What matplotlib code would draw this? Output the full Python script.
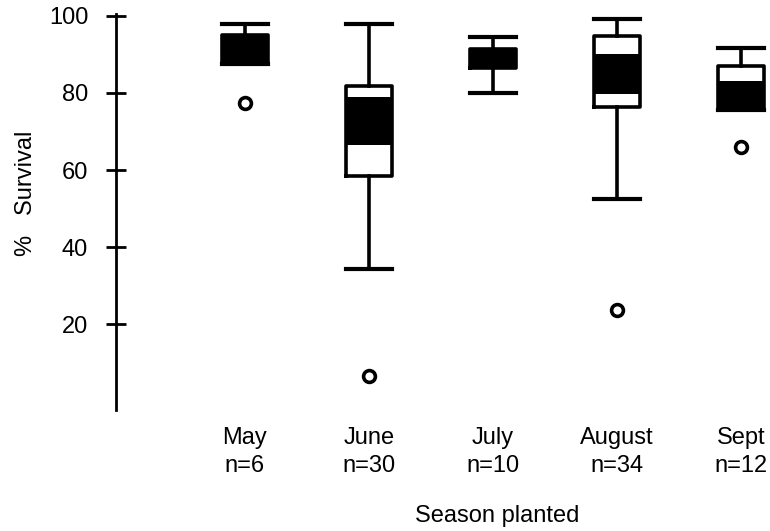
import matplotlib
matplotlib.use('Agg')
import matplotlib.pyplot as plt

plt.rcParams['font.family'] = ['Liberation Sans', 'DejaVu Sans']

months = ['May', 'June', 'July', 'August', 'Sept']
n_obs = [6, 30, 10, 34, 12]
q1 = [87.4, 58.5, 86.5, 76.4, 75.6]
q3 = [95.1, 81.7, 91.4, 94.8, 87.0]
whis_lo = [87.4, 34.2, 80.0, 52.5, 75.6]
whis_hi = [98.0, 97.9, 94.5, 99.2, 91.7]
# dark band inside each box
band_lo = [87.4, 66.6, 86.5, 79.7, 75.6]
band_hi = [95.1, 79.0, 91.4, 90.1, 83.1]
outliers = [[77.3], [6.5], [], [23.6], [66.0]]

pos = list(range(1, len(months) + 1))
W = 0.37
FS = 17

stats = []
for i in range(len(months)):
    stats.append(dict(med=(q1[i] + q3[i]) / 2, q1=q1[i], q3=q3[i],
                      whislo=whis_lo[i], whishi=whis_hi[i], fliers=outliers[i]))

fig = plt.figure(figsize=(7.7, 5.31), dpi=100)
ax = fig.add_axes([116 / 770, 121 / 531, 654 / 770, 396 / 531])

ax.bar(pos, [h - l for h, l in zip(band_hi, band_lo)], bottom=band_lo,
       width=W, color='black', zorder=1)

ax.bxp(stats, positions=pos, widths=W, showfliers=True, patch_artist=False,
       boxprops=dict(color='black', linewidth=2.6),
       whiskerprops=dict(color='black', linewidth=2.6),
       capprops=dict(color='black', linewidth=3),
       medianprops=dict(linewidth=0),
       flierprops=dict(marker='o', markerfacecolor='none', markeredgecolor='black',
                       markersize=8.5, markeredgewidth=2.6),
       capwidths=W, zorder=2)

ax.set_xlim(-0.04, 5.234)
ax.set_ylim(-2.3, 100.5)
ax.set_yticks([20, 40, 60, 80, 100])
ax.set_xticks(pos)
ax.set_xticklabels([m + '\nn=' + str(n) for m, n in zip(months, n_obs)],
                   fontsize=FS, linespacing=1.38)
ax.tick_params(axis='x', length=0, pad=12)
ax.tick_params(axis='y', direction='inout', length=14, width=2, labelsize=FS, pad=13)

for s in ['top', 'right', 'bottom']:
    ax.spines[s].set_visible(False)
ax.spines['left'].set_linewidth(2)

ax.set_ylabel('%   Survival', fontsize=FS, va='center')
ax.yaxis.set_label_coords(-0.138, 0.548)
fig.text(497 / 770, 1 - 516 / 531, 'Season planted', fontsize=FS, ha='center', va='center')

fig.savefig('out.png', dpi=100)
